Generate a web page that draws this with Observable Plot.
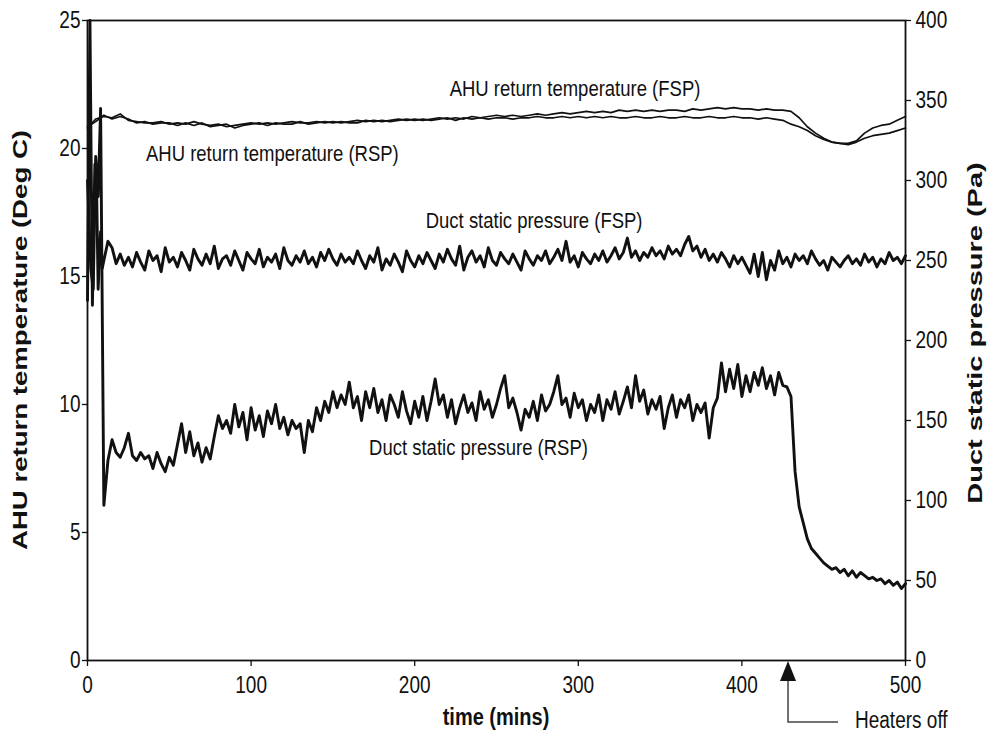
<!DOCTYPE html>
<html><head><meta charset="utf-8">
<script src="https://cdn.jsdelivr.net/npm/d3@7"></script>
<script src="https://cdn.jsdelivr.net/npm/@observablehq/plot@0.6"></script>
<style>body{margin:0;background:#fff} #chart svg{display:block}</style>
</head><body><div id="chart"></div>
<script>
// ---- tick values ----
const timeTicks = [0, 100, 200, 300, 400, 500];
const tempTicks = [0, 5, 10, 15, 20, 25];
const pressureTicks = [0, 50, 100, 150, 200, 250, 300, 350, 400];

// ---- AHU return temperature (deg C), every 5 min from t=0 ----
const tempStep = 5;
const tempFSP = [
 20.8,21.15,21.25,21.2,21.35,21.1,21.05,21.0,21.0,21.05,
 20.95,21.0,20.95,21.05,20.95,20.9,20.95,20.85,20.9,20.95,
 21.0,20.95,21.0,20.95,21.0,21.05,21.0,21.0,21.05,21.0,
 21.05,21.0,21.05,21.1,21.05,21.1,21.05,21.1,21.15,21.1,
 21.15,21.1,21.15,21.2,21.15,21.2,21.15,21.25,21.2,21.25,
 21.3,21.25,21.3,21.25,21.3,21.35,21.3,21.35,21.4,21.35,
 21.4,21.45,21.4,21.45,21.4,21.5,21.45,21.5,21.45,21.5,
 21.45,21.5,21.5,21.45,21.55,21.5,21.55,21.6,21.55,21.6,
 21.55,21.55,21.5,21.55,21.5,21.5,21.45,21.2,20.85,20.6,
 20.4,20.25,20.2,20.2,20.3,20.6,20.8,20.9,20.95,21.1,
 21.25];
const tempRSP = [
 20.85,21.05,21.3,21.15,21.25,21.15,21.0,21.05,20.95,21.0,
 21.0,20.9,21.0,20.9,21.0,20.85,20.9,20.95,20.8,20.9,
 20.95,21.0,20.9,21.0,20.95,20.95,21.05,20.95,21.0,21.05,
 21.0,21.05,21.0,21.0,21.1,21.05,21.1,21.05,21.1,21.15,
 21.1,21.15,21.1,21.15,21.2,21.1,21.2,21.15,21.2,21.15,
 21.2,21.2,21.15,21.2,21.2,21.25,21.2,21.2,21.25,21.2,
 21.25,21.2,21.25,21.2,21.25,21.2,21.2,21.25,21.2,21.2,
 21.25,21.2,21.2,21.25,21.2,21.2,21.25,21.2,21.2,21.25,
 21.2,21.2,21.15,21.2,21.15,21.1,20.95,20.85,20.7,20.5,
 20.35,20.25,20.2,20.15,20.25,20.4,20.5,20.55,20.6,20.7,
 20.8];

// ---- Duct static pressure (Pa) ----
// start-up transient (irregular times)
const fspStartTimes  = [0, 1.5, 3, 4.5, 5.5, 6.5, 8, 9];
const fspStartValues = [225, 400, 222, 310, 300, 232, 268, 245];
const rspStartTimes  = [0, 2, 3.5, 5, 6.5, 8];
const rspStartValues = [300, 245, 232, 315, 290, 345];
// then every 2.5 min from t=10
const pressureStart = 10, pressureStep = 2.5;
const fspPressure = [
 250,262,258,248,254,247,252,246,255,249,
 244,256,250,253,243,258,249,252,246,255,
 250,244,257,251,247,254,248,259,245,251,
 253,247,256,250,244,255,251,248,257,246,
 252,249,254,245,258,250,247,253,249,256,
 248,252,246,255,250,257,251,247,254,249,
 252,248,256,250,245,253,249,258,244,251,
 247,254,249,243,256,250,246,253,248,255,
 250,245,254,249,257,251,247,259,244,252,
 256,249,253,246,258,250,247,255,251,248,
 254,249,244,256,251,247,253,250,256,248,
 252,257,250,262,249,253,246,255,251,248,
 254,250,256,249,253,258,251,255,264,252,
 256,250,255,252,258,253,256,251,259,254,
 257,253,260,265,256,259,252,257,250,254,
 249,255,251,246,253,248,252,247,242,254,
 240,255,238,250,244,256,248,252,246,254,
 250,253,248,256,251,247,250,244,252,249,
 246,250,253,248,251,247,254,249,252,246,
 251,248,255,250,252,248,253];
const rspPressure = [
 97,125,138,130,127,133,142,128,125,130,
 126,128,120,130,123,118,127,122,135,148,
 130,143,128,136,124,133,126,140,153,145,
 150,142,160,146,155,138,158,144,153,140,
 156,148,160,145,152,141,150,145,148,130,
 150,143,158,150,162,155,168,158,166,160,
 174,158,165,150,168,158,170,155,163,150,
 166,160,152,168,156,148,162,152,165,150,
 162,176,160,166,152,163,148,158,166,155,
 161,150,168,157,163,152,160,170,178,158,
 164,155,144,157,152,162,150,166,156,160,
 168,178,160,164,152,167,158,163,150,160,
 155,166,150,163,157,168,154,162,171,158,
 178,162,169,154,163,157,165,145,158,166,
 152,163,158,166,150,160,155,161,139,158,
 164,186,168,182,170,185,165,178,168,180,
 172,183,170,178,166,180,172,171,165,118,
 96,86,76,70,67,64,61,59,57,58,
 55,57,53,56,52,55,53,51,52,50,
 51,48,50,47,49,45,48];

// ---- in-plot labels ----
const labelText  = ["AHU return temperature (FSP)", "AHU return temperature (RSP)", "Duct static pressure (FSP)", "Duct static pressure (RSP)"];
const labelTime  = [298, 113, 273, 239];
const labelLevel = [22.35, 19.8, 17.2, 8.3]; // in left-axis units (deg C)

const heatersOffTime = [428.5];

// ---- build tables ----
const degPerPa = tempTicks[tempTicks.length - 1] / pressureTicks[pressureTicks.length - 1];
const seq = (start, step, n) => Array.from({length: n}, (_, i) => start + i * step);
function rows(name, times, values, k) { return times.map((t, i) => ({series: name, t, y: values[i] * k})); }

const tempRows = [
  ...rows("tFSP", seq(0, tempStep, tempFSP.length), tempFSP, 1),
  ...rows("tRSP", seq(0, tempStep, tempRSP.length), tempRSP, 1)
];
const pressureRows = [
  ...rows("pFSP", fspStartTimes.concat(seq(pressureStart, pressureStep, fspPressure.length)), fspStartValues.concat(fspPressure), degPerPa),
  ...rows("pRSP", rspStartTimes.concat(seq(pressureStart, pressureStep, rspPressure.length)), rspStartValues.concat(rspPressure), degPerPa)
];
const labels = labelText.map((text, i) => ({text, t: labelTime[i], y: labelLevel[i]}));

const FONT = "'Liberation Sans', Arial, sans-serif";
const STRETCH = 1.22;

const chart = Plot.plot({
  width: 993, height: 737,
  marginLeft: 87, marginRight: 88, marginTop: 20, marginBottom: 77,
  x: {domain: [0, 500]},
  y: {domain: [0, 25]},
  style: {fontFamily: FONT, fontSize: "19px", color: "#111", background: "white"},
  marks: [
    Plot.axisX({ticks: timeTicks, tickSize: 6, tickPadding: 12, label: null, fontSize: 19, strokeWidth: 1.3}),
    Plot.axisY({anchor: "left", ticks: tempTicks, tickSize: 5, tickPadding: 2, label: null, fontSize: 19, strokeWidth: 1.3}),
    Plot.axisY({anchor: "right", ticks: pressureTicks.map(p => p * degPerPa), tickFormat: d => String(Math.round(d / degPerPa)), tickSize: 5, tickPadding: 5, label: null, fontSize: 19, strokeWidth: 1.3}),
    Plot.line(tempRows, {x: "t", y: "y", z: "series", stroke: "#111", strokeWidth: 1.7, strokeLinejoin: "round"}),
    Plot.line(pressureRows, {x: "t", y: "y", z: "series", stroke: "#111", strokeWidth: 2.9, strokeLinejoin: "round"}),
    Plot.frame({stroke: "#111", strokeWidth: 1.8}),
    Plot.text(labels, {x: "t", y: "y", text: "text", fontSize: 18.5, fill: "#111"})
  ]
});
document.getElementById("chart").appendChild(chart);

const svg = d3.select(chart);
// stretch glyphs vertically (about each text's own centre), like the non-uniformly scaled original
const SVGNS = "http://www.w3.org/2000/svg";
svg.selectAll("text").nodes().forEach(node => {
  const g = document.createElementNS(SVGNS, "g");
  node.parentNode.insertBefore(g, node);
  g.appendChild(node);
  const b = g.getBBox();
  const cx = b.x + b.width / 2, cy = b.y + b.height / 2;
  g.setAttribute("transform", `translate(${cx},${cy}) scale(1,${STRETCH}) translate(${-cx},${-cy})`);
});

// ---- axis titles and the "Heaters off" marker ----
const xs = chart.scale("x"), ys = chart.scale("y");
svg.append("text").text("AHU return temperature (Deg C)")
  .attr("transform", "translate(22,340) rotate(-90) scale(1.38,1)")
  .attr("text-anchor", "middle").attr("dominant-baseline", "middle")
  .style("font-family", FONT).style("font-size", "20px").style("font-weight", "bold").attr("fill", "#111");
svg.append("text").text("Duct static pressure (Pa)")
  .attr("transform", "translate(977,333) rotate(-90) scale(1.45,1)")
  .attr("text-anchor", "middle").attr("dominant-baseline", "middle")
  .style("font-family", FONT).style("font-size", "20px").style("font-weight", "bold").attr("fill", "#111");
svg.append("text").text("time (mins)")
  .attr("transform", `translate(${(xs.apply(0) + xs.apply(500)) / 2},719) scale(1,${STRETCH})`)
  .attr("text-anchor", "middle").attr("dominant-baseline", "middle")
  .style("font-family", FONT).style("font-size", "20px").style("font-weight", "bold").attr("fill", "#111");

const hx = xs.apply(heatersOffTime[0]), hy = ys.apply(0);
svg.append("path").attr("d", `M${hx},${hy + 1}L${hx - 8},${hy + 21}L${hx + 8},${hy + 21}Z`).attr("fill", "#111");
svg.append("path").attr("d", `M${hx},${hy + 21}V${hy + 62}H${hx + 50}`).attr("fill", "none").attr("stroke", "#444").attr("stroke-width", 1.5);
svg.append("text").text("Heaters off")
  .attr("transform", `translate(${hx + 67},${hy + 62}) scale(1,${STRETCH})`)
  .attr("text-anchor", "start").attr("dominant-baseline", "middle")
  .style("font-family", FONT).style("font-size", "19px").attr("fill", "#111");
</script></body></html>
